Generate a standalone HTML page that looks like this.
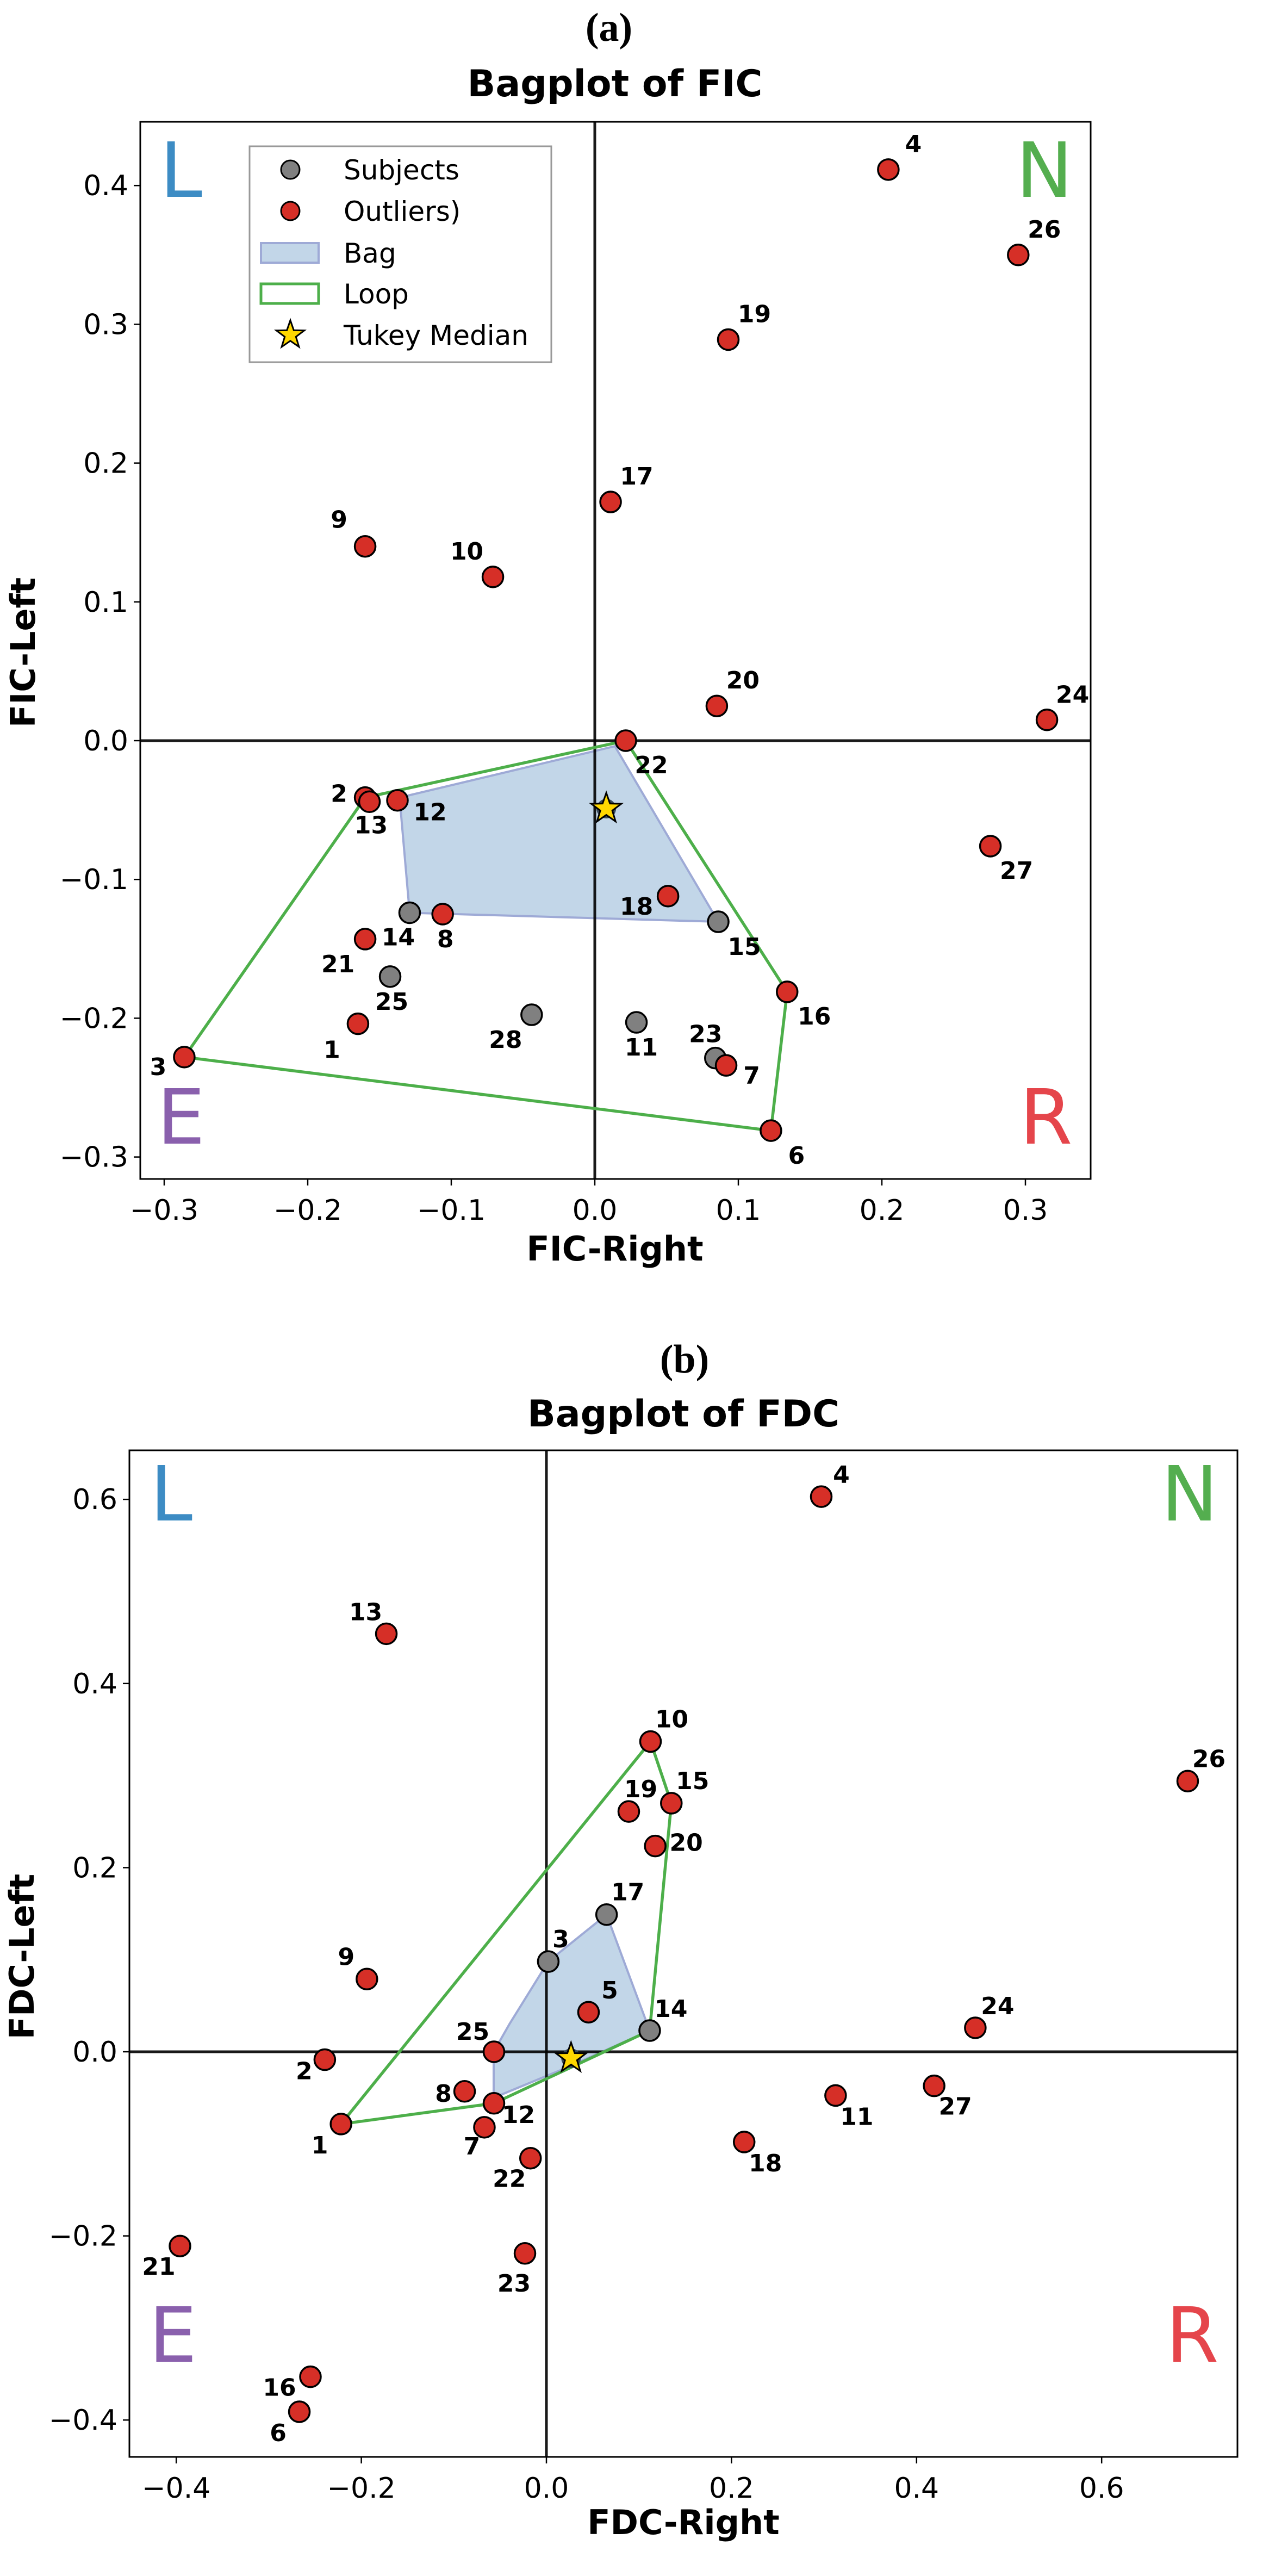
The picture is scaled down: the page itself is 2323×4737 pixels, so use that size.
<!DOCTYPE html>
<html><head><meta charset="utf-8"><style>
html,body{margin:0;padding:0;background:#fff;}
svg{display:block;font-family:"DejaVu Sans","Liberation Sans",sans-serif;}
.tick{font-size:52px;fill:#000;}
.plab{font-size:44px;font-weight:bold;fill:#000;}
.ttl{font-size:68px;font-weight:bold;}
.axt{font-size:62px;font-weight:bold;}
.cap{font-family:"Liberation Serif",serif;font-size:74px;font-weight:bold;}
.quad{font-size:140px;}
.leg{font-size:50px;}
</style></head><body>
<svg id="svg" xmlns="http://www.w3.org/2000/svg" width="2323" height="4737" viewBox="0 0 2323 4737">
<text class="cap" x="1120" y="75" text-anchor="middle">(a)</text>
<text class="ttl" x="1131" y="177" text-anchor="middle">Bagplot of FIC</text>
<text class="axt" x="1131" y="2318" text-anchor="middle">FIC-Right</text>
<text class="axt" transform="translate(64,1200) rotate(-90)" text-anchor="middle">FIC-Left</text>
<text class="cap" x="1259" y="2524" text-anchor="middle">(b)</text>
<text class="ttl" x="1257" y="2623" text-anchor="middle">Bagplot of FDC</text>
<text class="axt" x="1257" y="4660" text-anchor="middle">FDC-Right</text>
<text class="axt" transform="translate(62,3598) rotate(-90)" text-anchor="middle">FDC-Left</text>
</svg>
<script>
// ---- Chart A (FIC) data ----
const ficIds = [4,26,19,17,9,10,20,24,22,2,13,12,27,18,14,8,15,21,25,16,28,11,1,3,23,7,6];
const ficX = [0.2045,0.295,0.093,0.011,-0.160,-0.071,0.085,0.315,0.0216,-0.160,-0.157,-0.1375,0.2756,0.051,-0.129,-0.106,0.086,-0.160,-0.1426,0.134,-0.044,0.029,-0.165,-0.286,0.084,0.0915,0.1227];
const ficY = [0.4115,0.350,0.289,0.172,0.140,0.118,0.025,0.015,0,-0.041,-0.044,-0.043,-0.076,-0.112,-0.124,-0.125,-0.1305,-0.143,-0.170,-0.181,-0.1975,-0.203,-0.204,-0.228,-0.2287,-0.234,-0.281];
const ficType = ['o','o','o','o','o','o','o','o','o','o','o','o','o','o','s','o','s','o','s','o','s','s','o','o','s','o','o'];
const ficMedian = [0.008,-0.049];
const ficBag = [[-0.136,-0.041],[-0.129,-0.124],[0.086,-0.1305],[0.014,-0.004]];
const ficLoop = [[-0.286,-0.228],[-0.160,-0.041],[0.0216,0],[0.134,-0.181],[0.1227,-0.281]];
const ficXTicks = [-0.3,-0.2,-0.1,0.0,0.1,0.2,0.3];
const ficYTicks = [-0.3,-0.2,-0.1,0.0,0.1,0.2,0.3,0.4];
// label offsets (px styling, not data)
const ficLab = [[46,-48],[48,-48],[48,-48],[48,-48],[-48,-50],[-48,-48],[48,-48],[47,-47],[47,44],[-48,-8],[3,42],[60,21],[48,44],[-58,18],[-21,44],[5,45],[48,45],[-50,45],[3,45],[50,44],[-48,45],[9,45],[-48,47],[-48,17],[-18,-45],[47,18],[47,45]];

// ---- Chart B (FDC) data ----
const fdcIds = [4,13,10,26,19,15,20,17,3,9,5,14,24,25,2,27,8,11,12,7,1,18,22,21,23,16,6];
const fdcX = [0.297,-0.173,0.1125,0.693,0.089,0.135,0.1176,0.065,0.002,-0.194,0.0455,0.1116,0.4635,-0.0567,-0.2395,0.419,-0.0884,0.3125,-0.0567,-0.067,-0.222,0.2137,-0.0172,-0.396,-0.0232,-0.255,-0.267];
const fdcY = [0.603,0.454,0.337,0.294,0.261,0.270,0.2235,0.149,0.098,0.079,0.043,0.023,0.026,0,-0.0086,-0.037,-0.043,-0.0475,-0.056,-0.082,-0.0785,-0.098,-0.1156,-0.211,-0.219,-0.353,-0.391];
const fdcType = ['o','o','o','o','o','o','o','s','s','o','o','s','o','o','o','o','o','o','o','o','o','o','o','o','o','o','o'];
const fdcMedian = [0.0266,-0.007];
const fdcBag = [[-0.057,0],[-0.04,0.03],[0.002,0.098],[0.065,0.149],[0.1116,0.023],[0.02,-0.018],[-0.057,-0.05]];
const fdcLoop = [[-0.222,-0.0785],[0.1125,0.337],[0.135,0.270],[0.1116,0.023],[-0.0567,-0.056]];
const fdcXTicks = [-0.4,-0.2,0.0,0.2,0.4,0.6];
const fdcYTicks = [-0.4,-0.2,0.0,0.2,0.4,0.6];
const fdcLab = [[37,-41],[-38,-41],[39,-42],[39,-42],[22,-42],[39,-42],[57,-7],[39,-42],[23,-42],[-38,-42],[39,-41],[39,-41],[41,-41],[-39,-38],[-38,20],[39,37],[-39,3],[39,38],[45,20],[-23,34],[-39,38],[39,38],[-39,37],[-39,37],[-20,54],[-57,19],[-39,38]];

const NS='http://www.w3.org/2000/svg';
const svg=document.getElementById('svg');
function mk(tag,attrs,parent){const e=document.createElementNS(NS,tag);for(const k in attrs)e.setAttribute(k,attrs[k]);(parent||svg).appendChild(e);return e;}
function fmt(v){const s=Math.abs(v).toFixed(1);return (v<0?'\u2212':'')+s;}
function star(cx,cy,R){let p=[];for(let i=0;i<10;i++){const r=i%2?R*0.4:R;const a=-Math.PI/2+i*Math.PI/5;p.push((cx+r*Math.cos(a)).toFixed(1)+','+(cy+r*Math.sin(a)).toFixed(1));}return p.join(' ');}

function draw(cfg){
  const sx=v=>cfg.x0+v*cfg.kx, sy=v=>cfg.y0-v*cfg.ky;
  const g=mk('g',{});
  
  
  cfg.xt.forEach(t=>{
    const l=mk('line',{x1:sx(t),x2:sx(t),y1:cfg.B,y2:cfg.B+12,stroke:'#000','stroke-width':2.5},g);
    
    
    const tx=mk('text',{x:sx(t),y:cfg.B+75,'text-anchor':'middle',class:'tick'},g);tx.textContent=fmt(t);
    
    
  });
  cfg.yt.forEach(t=>{
    const l=mk('line',{x1:cfg.L-12,x2:cfg.L,y1:sy(t),y2:sy(t),stroke:'#000','stroke-width':2.5},g);
    
    
    const tx=mk('text',{x:cfg.L-22,y:sy(t)+18,'text-anchor':'end',class:'tick'},g);tx.textContent=fmt(t);
    
    
  });
  cfg.quads.forEach(q=>{const t=mk('text',{x:q[1],y:q[2],'text-anchor':'middle',class:'quad',fill:q[3]},g);t.textContent=q[0];
    
    });
  const bag=mk('polygon',{points:cfg.bag.map(p=>sx(p[0])+','+sy(p[1])).join(' '),fill:'#c2d6e8',stroke:'#9eaad6','stroke-width':4,'stroke-linejoin':'round'},g);
  
  
  const zl1=mk('line',{x1:sx(0),x2:sx(0),y1:cfg.T,y2:cfg.B,stroke:'#000','stroke-width':5,'stroke-opacity':0.9},g);
  
  
  const zl2=mk('line',{x1:cfg.L,x2:cfg.R,y1:sy(0),y2:sy(0),stroke:'#000','stroke-width':5,'stroke-opacity':0.9},g);
  
  
  const loop=mk('polygon',{points:cfg.loop.map(p=>sx(p[0])+','+sy(p[1])).join(' '),fill:'none',stroke:'#4daf4a','stroke-width':5.5,'stroke-linejoin':'round'},g);
  
  
  cfg.ids.forEach((id,i)=>{
    const c=mk('circle',{cx:sx(cfg.xs[i]),cy:sy(cfg.ys[i]),r:19,fill:cfg.type[i]==='s'?'#808080':'#d62f27',stroke:'#000','stroke-width':3.5},g);
    
    
  });
  const m=cfg.med;
  const mc=mk('circle',{cx:sx(m[0]),cy:sy(m[1]),r:18,fill:'#3a4a5a'},g);
  
  
  const st=mk('polygon',{points:star(sx(m[0]),sy(m[1]),29),fill:'#ffd700',stroke:'#000','stroke-width':3},g);
  
  
  cfg.ids.forEach((id,i)=>{
    const t=mk('text',{x:sx(cfg.xs[i])+cfg.lab[i][0],y:sy(cfg.ys[i])+cfg.lab[i][1]+16,'text-anchor':'middle',class:'plab'},g);
    t.textContent=id;
    
    
  });
  const fr=mk('rect',{x:cfg.L,y:cfg.T,width:cfg.R-cfg.L,height:cfg.B-cfg.T,fill:'none',stroke:'#000','stroke-width':3},g);
  
  
}

draw({name:'fic',L:258,R:2006,T:224,B:2168,x0:1094,kx:2640,y0:1362,ky:2552,
  ids:ficIds,xs:ficX,ys:ficY,type:ficType,med:ficMedian,bag:ficBag,loop:ficLoop,lab:ficLab,xt:ficXTicks,yt:ficYTicks,
  quads:[['L',333,362,'#3d8cc4'],['N',1921,362,'#54ae4f'],['E',333,2103,'#8a60ad'],['R',1924,2103,'#e5454b']]});
draw({name:'fdc',L:238,R:2276,T:2667,B:4518,x0:1005,kx:1702,y0:3773,ky:1693,
  ids:fdcIds,xs:fdcX,ys:fdcY,type:fdcType,med:fdcMedian,bag:fdcBag,loop:fdcLoop,lab:fdcLab,xt:fdcXTicks,yt:fdcYTicks,
  quads:[['L',315,2796,'#3d8cc4'],['N',2188,2796,'#54ae4f'],['E',318,4343,'#8a60ad'],['R',2193,4343,'#e5454b']]});

const lg=mk('g',{});


mk('rect',{x:459,y:269,width:555,height:397,fill:'#fff','fill-opacity':0.85,stroke:'#999','stroke-width':3},lg);
const legItems=['Subjects','Outliers)','Bag','Loop','Tukey Median'];
const legY=[312,388,465,540,616];
mk('circle',{cx:534,cy:legY[0],r:17,fill:'#808080',stroke:'#000','stroke-width':3},lg);
mk('circle',{cx:534,cy:legY[1],r:17,fill:'#d62f27',stroke:'#000','stroke-width':3},lg);
mk('rect',{x:480,y:legY[2]-18,width:106,height:36,fill:'#c2d6e8',stroke:'#9eaad6','stroke-width':4},lg);
mk('rect',{x:480,y:legY[3]-18,width:106,height:36,fill:'none',stroke:'#4daf4a','stroke-width':5},lg);
mk('polygon',{points:star(534,legY[4],27),fill:'#ffd700',stroke:'#000','stroke-width':3},lg);
legItems.forEach((s,i)=>{const t=mk('text',{x:632,y:legY[i]+18,class:'leg'},lg);t.textContent=s;
  
  });
</script>
</body></html>
